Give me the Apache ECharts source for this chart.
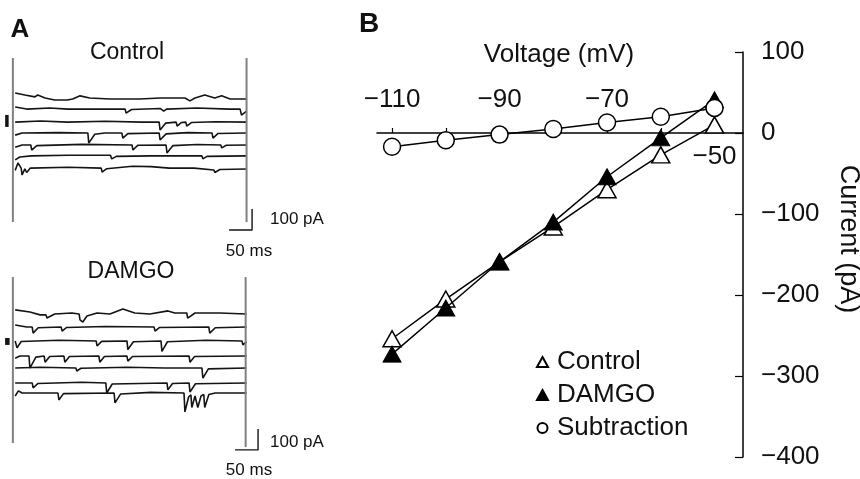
<!DOCTYPE html>
<html>
<head>
<meta charset="utf-8">
<script src="https://cdn.jsdelivr.net/npm/echarts@6/dist/echarts.min.js"></script>
<style>html,body{margin:0;background:#fff}#chart{width:860px;height:479px}</style>
</head>
<body>
<div id="chart"></div>
<script>
// panel B: I-V data
const voltages = [-110, -100, -90, -80, -70, -60, -50]
const controlIV = [-254, -205, -159, -116, -70, -27, 10]
const damgoIV = [-273, -216, -159, -110, -54, -6, 41]
const subtractionIV = [-17, -9, -2, 5, 13, 20, 31]
const vLabelTicks = [-110, -90, -70]
const vLabelBelow = [-50]
const vTicks = [-110, -100, -90, -80, -70, -60, -50]

// panel A: current traces, [time ms, current pA]
const controlTraces = [
  [[5,29],[26,19],[48,10],[54,19],[70,5],[91,-5],[118,-5],[121,-14],[130,0],[146,15],[167,5],[211,0],[276,0],[320,5],[374,5],[385,-9],[396,5],[417,19],[439,5],[454,15],[472,0],[508,0]],
  [[5,-38],[30,-48],[80,-43],[120,-48],[244,-48],[246,-67],[258,-50],[320,-45],[328,-58],[334,-48],[400,-43],[470,-48],[494,-48],[497,-77],[508,-58]],
  [[5,-110],[60,-105],[120,-110],[200,-106],[280,-110],[318,-110],[320,-148],[332,-115],[355,-110],[357,-129],[366,-112],[376,-110],[378,-129],[388,-112],[440,-108],[508,-110]],
  [[5,-172],[20,-162],[100,-160],[163,-162],[165,-210],[178,-168],[200,-162],[237,-162],[239,-186],[250,-165],[318,-162],[320,-195],[333,-166],[380,-160],[433,-162],[435,-186],[446,-164],[508,-162]],
  [[5,-230],[20,-219],[39,-219],[41,-243],[52,-222],[150,-216],[259,-219],[261,-243],[272,-220],[333,-219],[335,-257],[348,-222],[400,-217],[452,-219],[454,-233],[464,-220],[508,-219]],
  [[5,-290],[15,-276],[40,-271],[120,-268],[212,-268],[215,-285],[225,-273],[300,-271],[411,-271],[413,-285],[422,-273],[508,-271]],
  [[5,-340],[11,-305],[18,-329],[20,-362],[26,-333],[30,-350],[38,-329],[120,-325],[192,-329],[194,-348],[204,-332],[260,-320],[300,-322],[340,-329],[394,-329],[396,-338],[437,-338],[439,-350],[450,-336],[508,-333]]
]
const damgoTraces = [
  [[5,15],[37,5],[59,-9],[72,-9],[74,-24],[91,-5],[128,0],[144,-5],[146,-33],[152,-43],[161,-14],[183,0],[211,-5],[239,19],[265,0],[298,-5],[337,10],[352,0],[378,0],[380,-24],[396,0],[450,0],[508,-5]],
  [[5,-57],[30,-67],[42,-67],[44,-96],[55,-70],[105,-67],[107,-86],[117,-69],[200,-64],[307,-67],[309,-86],[319,-69],[426,-67],[428,-96],[440,-70],[508,-67]],
  [[5,-133],[9,-166],[18,-136],[100,-130],[181,-133],[183,-157],[193,-135],[248,-133],[250,-174],[262,-137],[322,-133],[324,-183],[336,-137],[420,-130],[498,-133],[500,-152],[508,-138]],
  [[5,-215],[15,-205],[35,-205],[37,-262],[50,-210],[68,-205],[70,-234],[80,-207],[111,-205],[113,-234],[123,-207],[187,-205],[189,-234],[199,-207],[248,-205],[250,-229],[260,-207],[383,-205],[385,-234],[395,-207],[508,-205]],
  [[5,-262],[60,-258],[137,-262],[139,-276],[148,-263],[250,-258],[330,-262],[411,-262],[413,-310],[425,-266],[508,-262]],
  [[5,-333],[42,-333],[44,-357],[54,-336],[150,-330],[202,-333],[204,-381],[216,-338],[335,-333],[337,-366],[347,-336],[383,-333],[385,-376],[397,-337],[508,-333]],
  [[5,-395],[12,-371],[20,-381],[98,-381],[100,-414],[110,-384],[220,-381],[222,-428],[234,-386],[300,-378],[372,-381],[374,-471],[382,-400],[387,-390],[389,-450],[396,-395],[400,-390],[402,-450],[409,-395],[415,-388],[417,-450],[426,-388],[440,-381],[508,-381]]
]
const controlTransients = [[[0,195],[0,-586]], [[508,195],[508,-586]]]
const damgoTransients = [[[0,171],[0,-619]], [[506,171],[506,-638]]]
const controlHold = [[-13,-76],[-13,-133]]
const damgoHold = [[-12,-119],[-12,-152]]
const controlScale = [[470,-624],[520,-624],[520,-524]]
const damgoScale = [[483,-652],[533,-652],[533,-552]]

const FONT = '"Liberation Sans", Arial, Helvetica, sans-serif'
const minus = v => String(v).replace('-', '\u2212')

const chart = echarts.init(document.getElementById('chart'))

function trace(data, gi, opts) {
  opts = opts || {}
  return {
    type: 'line', xAxisIndex: gi, yAxisIndex: gi, data, showSymbol: false, silent: true,
    clip: false, animation: false, z: opts.z || 2,
    lineStyle: { color: opts.color || '#141414', width: opts.width || 1.6 }
  }
}

function txt(x, y, s, size, o) {
  o = o || {}
  return {
    type: 'text', x, y, rotation: o.rot || 0,
    style: { text: s, font: (o.bold ? 'bold ' : '') + size + 'px ' + FONT, fill: '#111',
      align: o.align || 'center', verticalAlign: 'middle' }
  }
}

const series = []
controlTraces.forEach(d => series.push(trace(d, 0)))
damgoTraces.forEach(d => series.push(trace(d, 1)))
controlTransients.forEach(d => series.push(trace(d, 0, { color: '#808080', width: 2 })))
damgoTransients.forEach(d => series.push(trace(d, 1, { color: '#808080', width: 2 })))
series.push(trace(controlHold, 0, { width: 3.5 }))
series.push(trace(damgoHold, 1, { width: 4.5 }))
series.push(trace(controlScale, 0, { width: 1.4 }))
series.push(trace(damgoScale, 1, { width: 1.4 }))

const pts = arr => voltages.map((v, i) => [v, arr[i]])
series.push({
  name: 'Control', type: 'line', xAxisIndex: 2, yAxisIndex: 2, data: pts(controlIV),
  symbol: 'triangle', symbolSize: [18, 16], animation: false, z: 5,
  lineStyle: { color: '#000', width: 1.5 },
  itemStyle: { color: '#fff', borderColor: '#000', borderWidth: 1.5 }
})
series.push({
  name: 'DAMGO', type: 'line', xAxisIndex: 2, yAxisIndex: 2, data: pts(damgoIV),
  symbol: 'triangle', symbolSize: [18, 16], animation: false, z: 6,
  lineStyle: { color: '#000', width: 1.5 },
  itemStyle: { color: '#000', borderColor: '#000', borderWidth: 1 }
})
series.push({
  name: 'Subtraction', type: 'line', xAxisIndex: 2, yAxisIndex: 2, data: pts(subtractionIV),
  symbol: 'circle', symbolSize: 17, animation: false, z: 7,
  lineStyle: { color: '#000', width: 1.5 },
  itemStyle: { color: '#fff', borderColor: '#000', borderWidth: 1.5 }
})

// A panels: 0.46 px per ms, 0.21 px per pA
const hiddenX = { type: 'value', min: -28, max: 562, show: false }
const hiddenY = { type: 'value', min: -740, max: 200, show: false }

chart.setOption({
  animation: false,
  grid: [
    { left: 0, top: 57, width: 271.4, height: 197.4, outerBoundsMode: 'none', containLabel: false },
    { left: 0, top: 271, width: 271.4, height: 197.4, outerBoundsMode: 'none', containLabel: false },
    { left: 377, right: 117, top: 52, bottom: 22, outerBoundsMode: 'none', containLabel: false }
  ],
  xAxis: [
    Object.assign({ gridIndex: 0 }, hiddenX),
    Object.assign({ gridIndex: 1 }, hiddenX),
    {
      gridIndex: 2, type: 'value', min: -112.8, max: -44.7, position: 'top', offset: -81,
      axisLine: { onZero: false, lineStyle: { color: '#000', width: 1.5 } },
      axisTick: { show: true, length: 5, customValues: vTicks, lineStyle: { color: '#000', width: 1.2 } },
      axisLabel: { customValues: vLabelTicks, formatter: minus, margin: 20, fontSize: 26, color: '#111', fontFamily: FONT },
      splitLine: { show: false }
    },
    {
      gridIndex: 2, type: 'value', min: -112.8, max: -44.7, position: 'bottom', offset: -324,
      axisLine: { show: false, onZero: false },
      axisTick: { show: false },
      axisLabel: { customValues: vLabelBelow, formatter: minus, margin: 11, fontSize: 26, color: '#111', fontFamily: FONT },
      splitLine: { show: false }
    }
  ],
  yAxis: [
    Object.assign({ gridIndex: 0 }, hiddenY),
    Object.assign({ gridIndex: 1 }, hiddenY),
    {
      gridIndex: 2, type: 'value', min: -400, max: 100, interval: 100, position: 'right',
      axisLine: { show: true, onZero: false, lineStyle: { color: '#000', width: 1.5 } },
      axisTick: { show: true, inside: true, length: 8, lineStyle: { color: '#000', width: 1.2 } },
      axisLabel: { formatter: minus, margin: 18, fontSize: 26, color: '#111', fontFamily: FONT },
      splitLine: { show: false }
    }
  ],
  legend: {
    data: [
      { name: 'Control', icon: 'triangle' },
      { name: 'DAMGO', icon: 'triangle' },
      { name: 'Subtraction', icon: 'circle' }
    ],
    orient: 'vertical', left: 531, top: 341, itemWidth: 11, itemHeight: 10, itemGap: 1,
    selectedMode: false,
    textStyle: { fontSize: 26, color: '#111', fontFamily: FONT, lineHeight: 32, padding: [0, 0, 0, 4] }
  },
  graphic: [
    txt(20, 30, 'A', 26, { bold: true }),
    txt(369, 24, 'B', 28, { bold: true }),
    txt(127, 53, 'Control', 23),
    txt(131, 272, 'DAMGO', 23),
    txt(270, 219, '100 pA', 17, { align: 'left' }),
    txt(249, 251, '50 ms', 17),
    txt(270, 442, '100 pA', 17, { align: 'left' }),
    txt(249, 470, '50 ms', 17),
    txt(559, 55, 'Voltage (mV)', 26),
    txt(848, 239, 'Current (pA)', 27, { rot: -Math.PI / 2 })
  ],
  series
})
</script>
</body>
</html>
